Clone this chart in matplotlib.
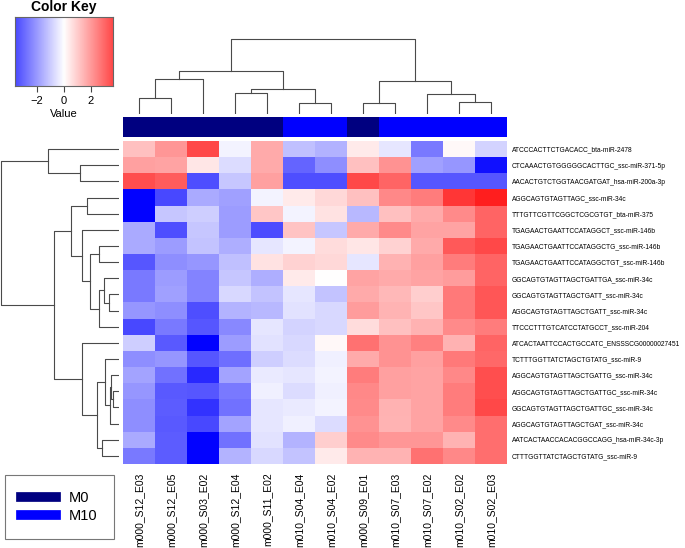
import matplotlib
matplotlib.use('Agg')
import matplotlib.pyplot as plt
import numpy as np
from matplotlib.colors import LinearSegmentedColormap
from matplotlib.lines import Line2D

plt.rcParams['font.family'] = ['Liberation Sans', 'DejaVu Sans']

samples = ['m000_S12_E03', 'm000_S12_E05', 'm000_S03_E02', 'm000_S12_E04',
           'm000_S11_E02', 'm010_S04_E04', 'm010_S04_E02', 'm000_S09_E01',
           'm010_S07_E03', 'm010_S07_E02', 'm010_S02_E02', 'm010_S02_E03']
groups = ['M0', 'M0', 'M0', 'M0', 'M0', 'M10', 'M10', 'M0', 'M10', 'M10', 'M10', 'M10']
group_colors = {'M0': '#000080', 'M10': '#0000FF'}

mirnas = [
    'ATCCCACTTCTGACACC_bta-miR-2478',
    'CTCAAACTGTGGGGGCACTTGC_ssc-miR-371-5p',
    'AACACTGTCTGGTAACGATGAT_hsa-miR-200a-3p',
    'AGGCAGTGTAGTTAGC_ssc-miR-34c',
    'TTTGTTCGTTCGGCTCGCGTGT_bta-miR-375',
    'TGAGAACTGAATTCCATAGGCT_ssc-miR-146b',
    'TGAGAACTGAATTCCATAGGCTG_ssc-miR-146b',
    'TGAGAACTGAATTCCATAGGCTGT_ssc-miR-146b',
    'GGCAGTGTAGTTAGCTGATTGA_ssc-miR-34c',
    'GGCAGTGTAGTTAGCTGATT_ssc-miR-34c',
    'AGGCAGTGTAGTTAGCTGATT_ssc-miR-34c',
    'TTCCCTTTGTCATCCTATGCCT_ssc-miR-204',
    'ATCACTAATTCCACTGCCATC_ENSSSCG00000027451',
    'TCTTTGGTTATCTAGCTGTATG_ssc-miR-9',
    'AGGCAGTGTAGTTAGCTGATTG_ssc-miR-34c',
    'AGGCAGTGTAGTTAGCTGATTGC_ssc-miR-34c',
    'GGCAGTGTAGTTAGCTGATTGC_ssc-miR-34c',
    'AGGCAGTGTAGTTAGCTGAT_ssc-miR-34c',
    'AATCACTAACCACACGGCCAGG_hsa-miR-34c-3p',
    'CTTTGGTTATCTAGCTGTATG_ssc-miR-9',
]

# row-scaled values, one row per miRNA (order as displayed)
values = np.array([
    [0.9, 1.5, 2.6, -0.15, 1.2, -0.9, -1.1, 0.3, -0.35, -1.9, 0.1, -0.6],
    [1.35, 1.3, 0.35, -0.5, 1.2, -2.2, -1.6, 0.9, 1.55, -1.35, -1.5, -3.4],
    [2.5, 2.3, -2.5, -0.8, 1.35, -2.5, -2.5, 2.6, 2.2, -2.4, -2.4, -2.4],
    [-3.6, -2.6, -1.2, -1.35, -0.15, 0.3, 0.55, 0.9, 1.7, 1.85, 2.85, 3.2],
    [-3.6, -0.8, -0.7, -1.4, 0.8, -0.15, 0.4, -1.0, 0.9, 1.2, 1.65, 2.2],
    [-1.2, -2.5, -0.8, -1.4, -2.55, 0.85, -0.8, 1.2, 1.65, 1.3, 1.3, 2.2],
    [-1.2, -1.4, -0.85, -1.15, -0.35, -0.15, 0.5, 0.35, 0.65, 1.2, 2.35, 2.6],
    [-2.4, -1.6, -1.5, -0.9, 0.4, 0.65, 0.55, -0.35, 1.1, 1.35, 1.85, 2.2],
    [-1.9, -1.4, -1.75, -0.8, -1.15, 0.3, 0.0, 1.3, 1.2, 1.3, 1.4, 2.2],
    [-1.9, -1.35, -1.75, -0.55, -0.85, -0.35, -0.85, 1.2, 1.0, 0.7, 1.9, 2.4],
    [-1.5, -1.6, -2.5, -1.05, -1.0, -0.4, -0.55, 1.4, 1.05, 0.8, 1.9, 2.4],
    [-2.6, -1.9, -2.4, -1.7, -0.35, -0.6, -0.55, 0.5, 0.9, 1.1, 1.65, 1.85],
    [-0.7, -2.35, -3.6, -1.4, -0.4, -0.55, 0.1, 2.0, 1.55, 1.8, 1.1, 2.2],
    [-1.6, -1.5, -2.4, -2.05, -0.7, -0.5, -0.2, 1.2, 1.55, 1.35, 1.9, 2.15],
    [-1.3, -2.0, -3.05, -1.3, -0.3, -0.35, -0.15, 1.85, 1.35, 1.3, 1.7, 2.5],
    [-1.5, -2.35, -2.4, -1.9, -0.2, -0.5, -0.2, 1.7, 1.35, 1.3, 1.85, 2.5],
    [-1.6, -2.3, -2.9, -2.0, -0.35, -0.3, -0.15, 1.65, 1.1, 1.3, 1.85, 2.6],
    [-1.6, -2.35, -2.6, -1.3, -0.35, -0.2, -0.5, 1.55, 1.05, 1.3, 1.65, 2.05],
    [-1.2, -2.3, -3.6, -2.0, -0.4, -1.05, 0.7, 1.65, 1.5, 1.5, 1.05, 2.05],
    [-1.9, -2.3, -3.6, -1.05, -0.55, -0.85, 0.3, 1.05, 1.05, 2.0, 1.7, 2.05],
])

# dendrogram merges: (child a, child b, height); new nodes numbered after leaves
col_merges = [(0, 1, 15.7), (12, 2, 34.7), (3, 4, 20.7), (5, 6, 10.7),
              (14, 15, 24.7), (13, 16, 43.3), (7, 8, 10.7), (10, 11, 12.3),
              (9, 19, 19.7), (18, 20, 33.0), (17, 21, 74.7)]
row_merges = [(1, 2, 39.0), (0, 20, 70.7), (3, 4, 32.3), (6, 7, 19.7),
              (9, 10, 10.0), (8, 24, 14.7), (25, 11, 20.0), (23, 26, 29.0),
              (5, 27, 36.7), (22, 28, 48.0), (15, 16, 5.7), (14, 30, 8.5),
              (31, 17, 9.5), (13, 32, 14.0), (18, 19, 16.7), (33, 34, 21.7),
              (12, 35, 36.7), (29, 36, 64.7), (21, 37, 118.0)]

vlim = 3.63
cmap = LinearSegmentedColormap.from_list('bluered', ['#0000FF', '#FFFFFF', '#FF0000'])

W, H = 685, 548
fig = plt.figure(figsize=(W / 100, H / 100), dpi=100)


def px_axes(x0, y0, x1, y1):
    return fig.add_axes([x0 / W, 1 - y1 / H, (x1 - x0) / W, (y1 - y0) / H])


def draw_dendro(ax, merges, n, vertical):
    pos = {i: i + 0.5 for i in range(n)}
    hgt = {i: 0.0 for i in range(n)}
    for k, (a, b, h) in enumerate(merges):
        xs = [pos[a], pos[a], pos[b], pos[b]]
        ys = [hgt[a], h, h, hgt[b]]
        if vertical:
            ax.plot(xs, ys, color='#4a4a4a', lw=0.8)
        else:
            ax.plot(ys, xs, color='#4a4a4a', lw=0.8)
        pos[n + k] = (pos[a] + pos[b]) / 2
        hgt[n + k] = h
    ax.axis('off')


nr, nc = values.shape

# heatmap
ax = px_axes(123, 141, 507, 464)
ax.imshow(values, cmap=cmap, vmin=-vlim, vmax=vlim, aspect='auto',
          interpolation='nearest', extent=(0, nc, nr, 0))
ax.set_xticks(np.arange(nc) + 0.5)
ax.set_xticklabels(samples, rotation=90, fontsize=7.5)
ax.set_yticks(np.arange(nr) + 0.5)
ax.set_yticklabels(mirnas, fontsize=4.75)
ax.yaxis.tick_right()
ax.tick_params(length=0, pad=3.5)
ax.tick_params(axis='x', pad=6)
for s in ax.spines.values():
    s.set_visible(False)

# column side colours
axc = px_axes(123, 117, 507, 137)
for i, g in enumerate(groups):
    axc.bar(i + 0.5, 1, width=1, color=group_colors[g], edgecolor='none')
axc.set_xlim(0, nc)
axc.set_ylim(0, 1)
axc.axis('off')

# column dendrogram
axd = px_axes(123, 30, 507, 114)
draw_dendro(axd, col_merges, nc, True)
axd.set_xlim(0, nc)
axd.set_ylim(0, 84)

# row dendrogram
axr = px_axes(0, 141, 119, 464)
draw_dendro(axr, row_merges, nr, False)
axr.set_xlim(119, 0)
axr.set_ylim(nr, 0)

# colour key
axk = px_axes(15, 17, 113, 86)
grad = np.linspace(-vlim, vlim, 256).reshape(1, -1)
axk.imshow(grad, cmap=cmap, vmin=-vlim, vmax=vlim, aspect='auto',
           extent=(-vlim, vlim, 0, 1), alpha=0.72)
axk.set_yticks([])
axk.set_xticks([-2, 0, 2])
axk.tick_params(axis='x', labelsize=8, length=4, width=0.8, color='#444444')
axk.set_xlabel('Value', fontsize=8, labelpad=2)
axk.set_title('Color Key', fontsize=10, fontweight='bold', pad=4)
for s in axk.spines.values():
    s.set_color('#666666')
    s.set_linewidth(0.8)

# legend
handles = [Line2D([0], [0], color=group_colors[g], lw=7) for g in ['M0', 'M10']]
leg = fig.legend(handles, ['M0', 'M10'], loc='upper left',
                 bbox_to_anchor=(5 / W, 1 - 475 / H), fontsize=10.5,
                 fancybox=False, edgecolor='#555555', handlelength=2.4,
                 labelspacing=0.3, borderpad=1.1, handletextpad=0.9,
                 borderaxespad=0)
leg.get_frame().set_linewidth(0.8)

fig.savefig('out.png', dpi=100)
